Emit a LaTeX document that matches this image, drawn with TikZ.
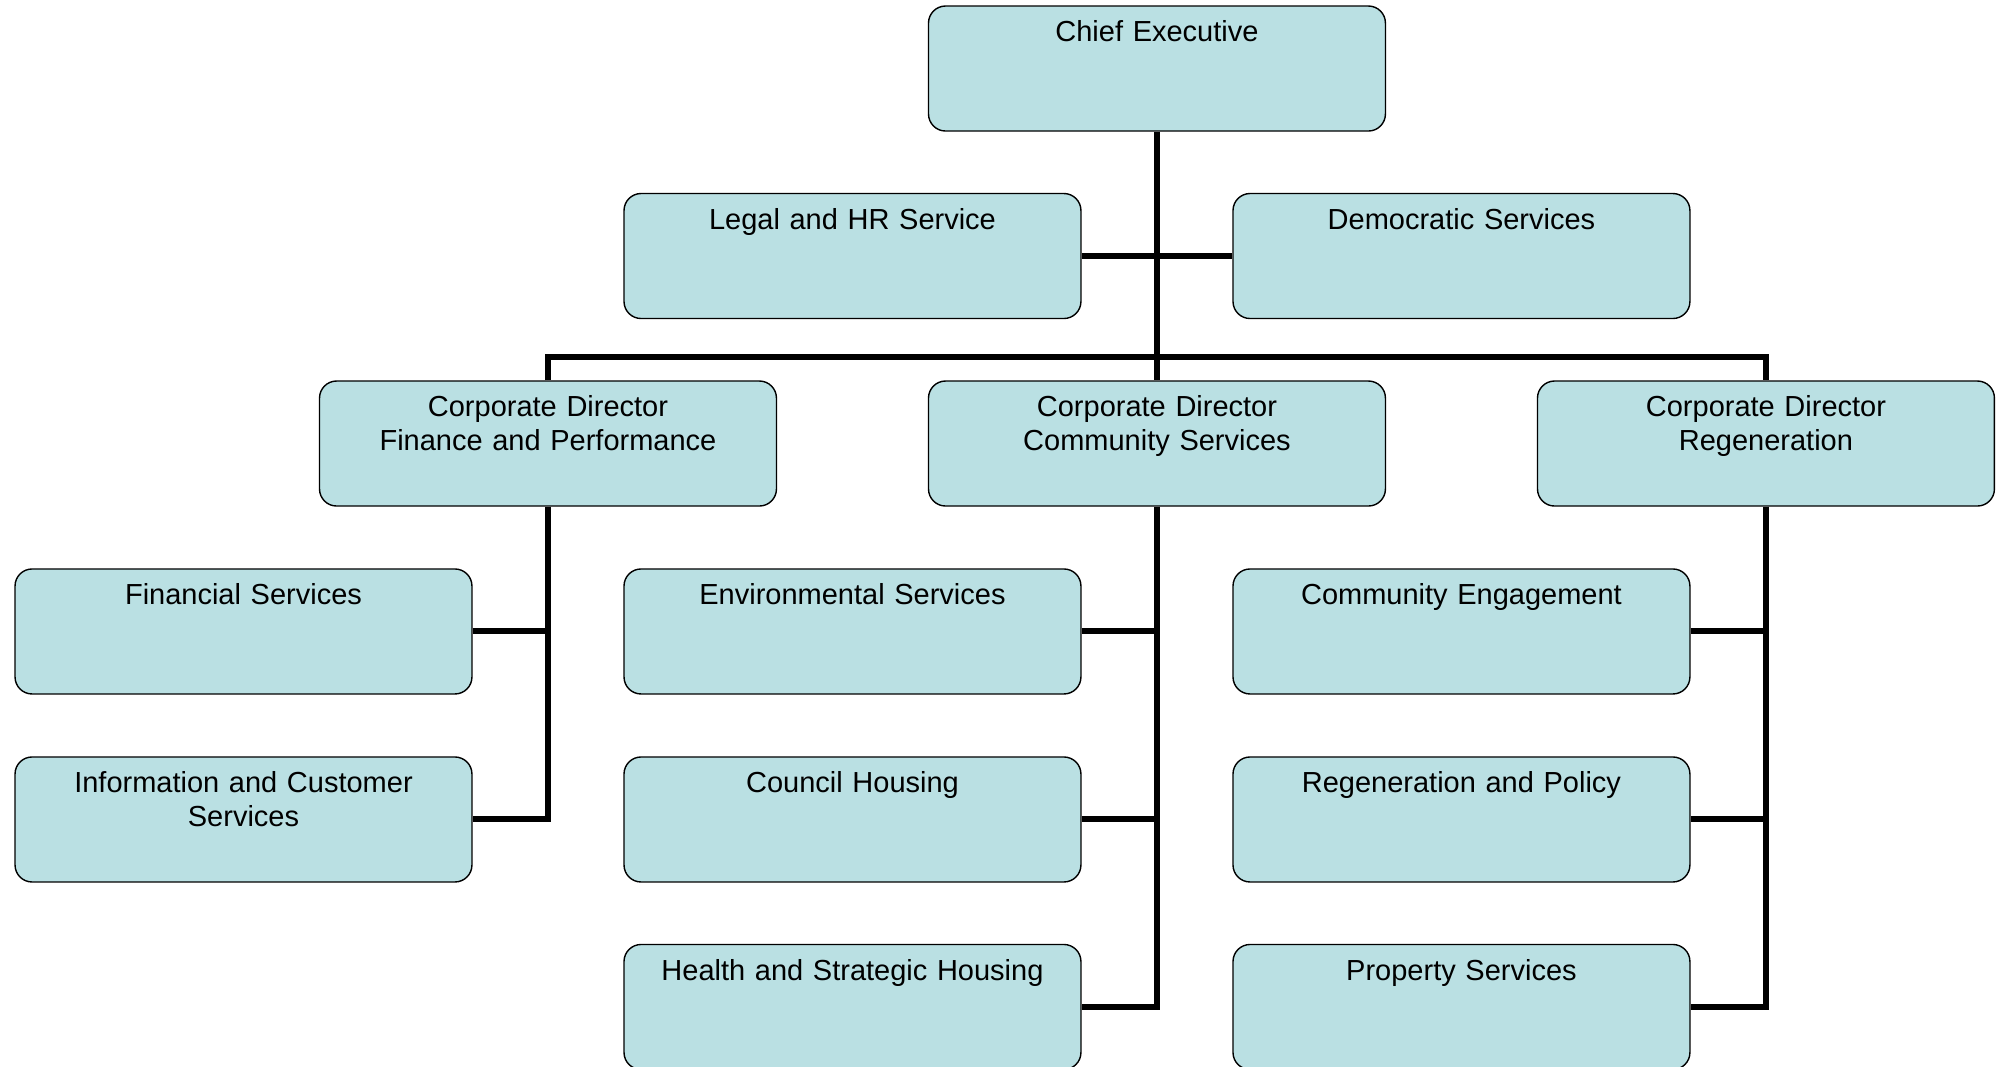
\documentclass[tikz,border=0pt]{standalone}
\usepackage{fontspec}
\setmainfont{Liberation Sans}
\usetikzlibrary{positioning}
\definecolor{unitTeal}{RGB}{186,224,227}
\tikzset{
  unit/.style={draw=black, line width=0.7pt, fill=unitTeal, rounded corners=0.3cm,
    text width=7.6cm, align=center, inner xsep=0.215cm, inner ysep=0.18cm,
    text height=0.45cm, text depth=1.387cm, font=\fontsize{14.5}{16.6}\selectfont},
  link/.style={line width=3pt, draw=black}
}
\begin{document}
\begin{tikzpicture}

  \useasboundingbox (0,0) rectangle (35.27,-18.75); % page size of the chart

  \node[unit] (ce) at (20.332,-1.204) {Chief Executive};
  \node[unit] (legal) at (14.981,-4.499) {Legal and HR Service};
  \node[unit] (dem) at (25.683,-4.499) {Democratic Services};

  \node[unit] (cdf) at (9.630,-7.794) {Corporate Director\\Finance and Performance};
  \node[unit] (cdc) at (20.332,-7.794) {Corporate Director\\Community Services};
  \node[unit] (cdr) at (31.034,-7.794) {Corporate Director\\Regeneration};

  \node[unit] (fin) at (4.279,-11.097) {Financial Services};
  \node[unit] (info) at (4.279,-14.401) {Information and Customer\\Services};

  \node[unit] (env) at (14.981,-11.097) {Environmental Services};
  \node[unit] (hous) at (14.981,-14.401) {Council Housing};
  \node[unit] (health) at (14.981,-17.696) {Health and Strategic Housing};

  \node[unit] (eng) at (25.683,-11.097) {Community Engagement};
  \node[unit] (pol) at (25.683,-14.401) {Regeneration and Policy};
  \node[unit] (prop) at (25.683,-17.696) {Property Services};

  \coordinate (bus) at (20.332,-6.274);

  \draw[link] (ce.south) -- (cdc.north);
  \draw[link] (legal.east) -- (dem.west);
  \draw[link] (cdf.north) |- (bus) -| (cdr.north);

  \draw[link] (cdf.south) |- (info.east);
  \draw[link] (fin.east) -- (fin.east -| cdf.south);

  \draw[link] (cdc.south) |- (health.east);
  \foreach \n in {env,hous}{
    \draw[link] (\n.east) -- (\n.east -| cdc.south);
  }

  \draw[link] (cdr.south) |- (prop.east);
  \foreach \n in {eng,pol}{
    \draw[link] (\n.east) -- (\n.east -| cdr.south);
  }

\end{tikzpicture}
\end{document}
